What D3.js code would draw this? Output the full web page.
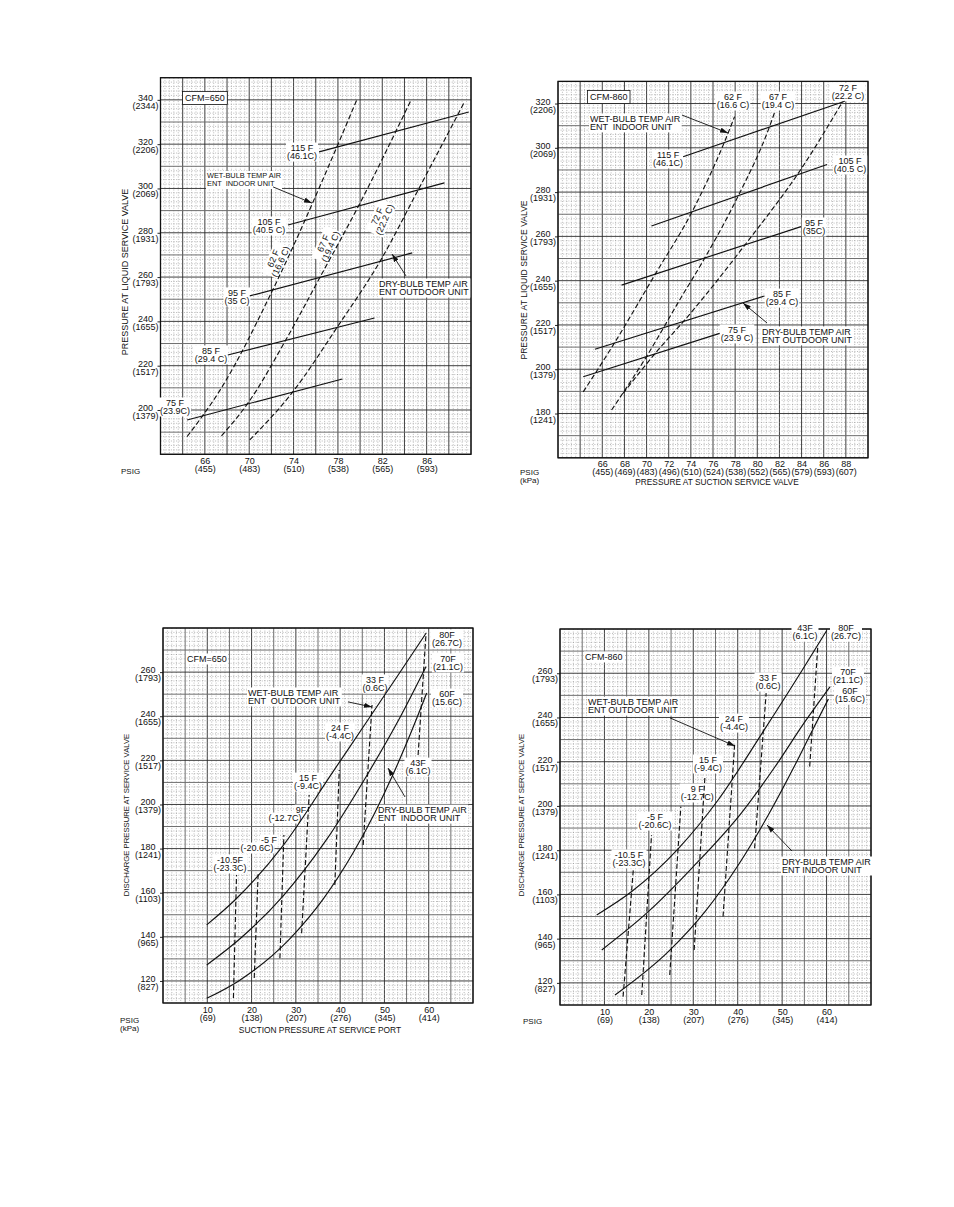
<!DOCTYPE html>
<html><head><meta charset="utf-8">
<script src="https://cdn.jsdelivr.net/npm/d3@7"></script>
<style>body{margin:0;background:#fff}</style>
</head><body><svg id="c" width="954" height="1207"></svg>
<script>
// ================= DATA =================
// Panel 1 : CFM=650, liquid pressure vs suction pressure (cooling)
const p1XTicks = [66,70,74,78,82,86];
const p1XKpa   = ["455","483","510","538","565","593"];
const p1YTicks = [200,220,240,260,280,300,320,340];
const p1YKpa   = ["1379","1517","1655","1793","1931","2069","2206","2344"];
const p1DryNames = ["115F","105F","95F","85F","75F"];
const p1Dry = [
  [[76.3,316.5],[89.8,334.5]],
  [[73.5,283.5],[87.6,302.5]],
  [[70.05,251.5],[84.7,270.9]],
  [[68.07,224.8],[81.3,241.5]],
  [[64.4,195.5],[78.4,214]]
];
const p1WetNames = ["62F","67F","72F"];
const p1Wet = [
  [[64.4,188],[67.5,210],[72.1,254],[77.9,318.7],[79.7,340]],
  [[67.5,188.3],[69.9,203.2],[73.4,232.5],[76.5,261],[79.9,292.5],[84.6,340]],
  [[70.05,186.5],[73.9,208],[77.95,237.5],[81.9,268],[85.2,299],[89.4,339]]
];
const p1Labels = [
  {t:["CFM=650"], at:[64.21,339.5], a:"start", box:true},
  {t:["115 F","(46.1C)"], at:[74.76,316.9]},
  {t:["WET-BULB TEMP AIR","ENT  INDOOR UNIT"], at:[66.19,304.5], a:"start", fs:7.4},
  {t:["105 F","(40.5 C)"], at:[71.78,283.5]},
  {t:["62 F","(16.6 C)"], at:[72.5,267.7], rot:-66},
  {t:["67 F","(19.4 C)"], at:[77.0,274.5], rot:-66},
  {t:["72 F","(22.2 C)"], at:[81.88,286.7], rot:-66},
  {t:["95 F","(35 C)"], at:[68.9,251.5]},
  {t:["DRY-BULB TEMP AIR","ENT OUTDOOR UNIT"], at:[81.7,255.5], a:"start"},
  {t:["85 F","(29.4 C)"], at:[66.55,225.3]},
  {t:["75 F","(23.9C)"], at:[63.31,201.8]}
];
const p1Arrows = [
  {from:[72.15,300.7], to:[75.66,293.4]},
  {from:[84.14,260.5], to:[82.88,270.4]}
];

// Panel 2 : CFM-860
const p2XTicks = [66,68,70,72,74,76,78,80,82,84,86,88];
const p2XKpa   = ["455","469","483","496","510","524","538","552","565","579","593","607"];
const p2YTicks = [180,200,220,240,260,280,300,320];
const p2YKpa   = ["1241","1379","1517","1655","1793","1931","2069","2206"];
const p2DryNames = ["115F","105F","95F","85F","75F"];
const p2Dry = [
  [[73.3,296],[87.9,321]],
  [[70.44,264.7],[86.3,292.5]],
  [[67.74,238],[83.95,264.4]],
  [[65.33,209],[80.65,233.1]],
  [[64.28,196.6],[76.6,216.2]]
];
const p2WetNames = ["62F","67F","72F"];
const p2Wet = [
  [[64.28,189.8],[66.98,210.9],[70.74,242.6],[74.19,271.9],[77.05,302.8],[77.95,314.1]],
  [[66.84,181.6],[69.99,205.7],[72.99,231.3],[75.24,250.1],[78.24,277.9],[81.1,309.5],[81.6,316.5]],
  [[67.88,189.1],[71.04,208.7],[73.44,222.2],[79.0,256.9],[84.1,291.5],[87.7,320.8]]
];
const p2Labels = [
  {t:["CFM-860"], at:[64.89,321.6], a:"start", box:true},
  {t:["62 F","(16.6 C)"], at:[77.81,321.6]},
  {t:["67 F","(19.4 C)"], at:[81.87,321.6]},
  {t:["72 F","(22.2 C)"], at:[88.19,325.7]},
  {t:["WET-BULB TEMP AIR","ENT  INDOOR UNIT"], at:[64.89,311.7], a:"start"},
  {t:["115 F","(46.1C)"], at:[71.94,295.4]},
  {t:["105 F","(40.5 C)"], at:[88.37,292.7]},
  {t:["95 F","(35C)"], at:[85.12,264.7]},
  {t:["85 F","(29.4 C)"], at:[82.23,232.6]},
  {t:["75 F","(23.9 C)"], at:[78.17,216.4]},
  {t:["DRY-BULB TEMP AIR","ENT OUTDOOR UNIT"], at:[80.43,215.5], a:"start"}
];
const p2Arrows = [
  {from:[73.2,314.8], to:[77.36,306.7]},
  {from:[80.88,220.9], to:[78.71,229.9]}
];

// Panel 3 : CFM=650, discharge pressure vs suction pressure (heating)
const p3XTicks = [10,20,30,40,50,60];
const p3XKpa   = ["69","138","207","276","345","414"];
const p3YTicks = [120,140,160,180,200,220,240,260];
const p3YKpa   = ["827","965","1103","1241","1379","1517","1655","1793"];
const p3DryNames = ["80F","70F","60F"];
const p3Dry = [
  [[9.86,145.4],[16.25,156.7],[27.2,181.6],[38.4,214.9],[46,237.5],[53.1,258.7],[59.4,277.6]],
  [[9.87,127.2],[17.77,139.8],[27.1,158.5],[36.8,183.7],[46.36,214.3],[52.77,236.7],[59.39,262.5]],
  [[9.87,112.1],[17,119.9],[28.68,139.2],[36.2,157.2],[42.97,178.2],[47.64,195.5],[51.94,213.6],[56.16,233.4],[59.55,250.5]]
];
const p3WetNames = ["-10.5F","-5F","9F","15F","24F","33F","43F"];
const p3Wet = [
  [[15.9,112.3],[16.6,168.0]],
  [[20.6,121.3],[21.5,169.4]],
  [[26.4,130.3],[27.3,186.2]],
  [[31.3,141.6],[33.0,204.3]],
  [[38.8,163.5],[39.8,215.6]],
  [[45.2,181.6],[47.2,245.1]],
  [[57.6,222.4],[59.4,277.6]]
];
const p3Labels = [
  {t:["CFM=650"], at:[5.42,264.6], a:"start", box:false},
  {t:["80F","(26.7C)"], at:[64.13,275.5]},
  {t:["70F","(21.1C)"], at:[64.35,264.6]},
  {t:["60F","(15.6C)"], at:[64.13,248.7]},
  {t:["33 F","(0.6C)"], at:[47.87,255.1]},
  {t:["WET-BULB TEMP AIR","ENT  OUTDOOR UNIT"], at:[19.19,249.2], a:"start"},
  {t:["24 F","(-4.4C)"], at:[39.97,233.3]},
  {t:["43F","(6.1C)"], at:[57.58,217.4]},
  {t:["15 F","(-9.4C)"], at:[32.74,210.6]},
  {t:["9F"], at:[31.16,196.1]},
  {t:["(-12.7C)"], at:[27.55,192.5]},
  {t:["-5 F"], at:[23.94,182.5]},
  {t:["(-20.6C)"], at:[21.23,178.9]},
  {t:["-10.5F","(-23.3C)"], at:[15.13,173.5]},
  {t:["DRY-BULB TEMP AIR","ENT  INDOOR UNIT"], at:[48.55,196.1], a:"start"}
];
const p3Arrows = [
  {from:[41.77,246.5], to:[47.19,244.2]},
  {from:[54.65,203.4], to:[50.81,216.5]}
];

// Panel 4 : CFM-860
const p4XTicks = [10,20,30,40,50,60];
const p4XKpa   = ["69","138","207","276","345","414"];
const p4YTicks = [120,140,160,180,200,220,240,260];
const p4YKpa   = ["827","965","1103","1241","1379","1517","1655","1793"];
const p4DryNames = ["80F","70F","60F"];
const p4Dry = [
  [[8.26,150.7],[16.14,161.3],[26.63,180.7],[35.63,202.8],[45.4,232.6],[54.4,261],[60.03,279.3]],
  [[9.39,134.9],[19.87,152.2],[29.64,171.8],[40.9,197],[48.39,217.7],[55.14,238.1],[60.77,253.9]],
  [[12.38,114.5],[24.38,134.1],[32.64,152.2],[40.13,173.3],[46.88,195.9],[52.89,218.5],[56.65,233.5],[60.39,248.3]]
];
const p4WetNames = ["-10.5F","-5F","9F","15F","24F","33F","43F"];
const p4Wet = [
  [[14.2,113.8],[16.5,171.1]],
  [[18.4,114.5],[20.6,186.9]],
  [[24.7,123.6],[27.2,199.7]],
  [[30.2,134.9],[32.6,212.6]],
  [[36.7,150],[39.3,227.6]],
  [[43.8,180.9],[46.4,251]],
  [[56.2,217.8],[58.0,271.4]]
];
const p4Labels = [
  {t:["CFM-860"], at:[5.63,266.0], a:"start", box:false},
  {t:["43F","(6.1C)"], at:[55.14,279.0]},
  {t:["80F","(26.7C)"], at:[64.37,279.0]},
  {t:["70F","(21.1C)"], at:[64.82,259.1]},
  {t:["60F","(15.6C)"], at:[65.27,250.5]},
  {t:["33 F","(0.6C)"], at:[46.82,256.5]},
  {t:["WET-BULB TEMP AIR","ENT OUTDOOR UNIT"], at:[6.30,245.6], a:"start"},
  {t:["24 F","(-4.4C)"], at:[39.16,237.9]},
  {t:["15 F","(-9.4C)"], at:[33.31,219.4]},
  {t:["9 F","(-12.7C)"], at:[30.9,206.3]},
  {t:["-5 F","(-20.6C)"], at:[21.38,193.6]},
  {t:["-10.5 F","(-23.3C)"], at:[15.53,176.5]},
  {t:["DRY-BULB TEMP AIR","ENT INDOOR UNIT"], at:[49.97,173.3], a:"start"}
];
const p4Arrows = [
  {from:[24.76,239.8], to:[39.39,227.1]},
  {from:[52.22,179.6], to:[46.59,191.4]}
];

// ================= LAYOUT / STYLE =================
const FONT = "'Liberation Sans', Arial, Helvetica, sans-serif";
const INK = "#111";
const panels = [
  {xDom:[62,90], yDom:[180,350], xRange:[160.5,471], yRange:[454.3,77.7],
   xMinor:0.4, xMid:2, xMajor:4, yMinor:2, yMid:10, yMajor:20,
   xTicks:p1XTicks, xKpa:p1XKpa, yTicks:p1YTicks, yKpa:p1YKpa,
   dry:p1Dry, wet:p1Wet, labels:p1Labels, arrows:p1Arrows, wetCurve:true, dryCurve:false,
   yTitle:{text:"PRESSURE AT LIQUID SERVICE VALVE", x:125, y:272, fs:9},
   psig:{x:121, y:474, lines:["PSIG"]}},
  {xDom:[62,90], yDom:[160,330], xRange:[558,868], yRange:[457.8,81.4],
   xMinor:0.4, xMid:2, xMajor:4, yMinor:2, yMid:10, yMajor:20,
   xTicks:p2XTicks, xKpa:p2XKpa, yTicks:p2YTicks, yKpa:p2YKpa,
   dry:p2Dry, wet:p2Wet, labels:p2Labels, arrows:p2Arrows, wetCurve:true, dryCurve:false,
   yTitle:{text:"PRESSURE AT LIQUID SERVICE VALVE", x:524, y:280, fs:8.6},
   xTitle:{text:"PRESSURE AT SUCTION SERVICE VALVE", x:717, y:485, fs:8.3},
   psig:{x:520, y:475, lines:["PSIG","(kPa)"]}},
  {xDom:[0,70], yDom:[110,280], xRange:[163,473], yRange:[1003,628],
   xMinor:1, xMid:5, xMajor:10, yMinor:2, yMid:10, yMajor:20,
   xTicks:p3XTicks, xKpa:p3XKpa, yTicks:p3YTicks, yKpa:p3YKpa,
   dry:p3Dry, wet:p3Wet, labels:p3Labels, arrows:p3Arrows, wetCurve:false, dryCurve:true,
   yTitle:{text:"DISCHARGE PRESSURE AT SERVICE VALVE", x:126, y:815, fs:7.7},
   xTitle:{text:"SUCTION PRESSURE AT SERVICE PORT", x:320, y:1033, fs:8.4},
   psig:{x:120, y:1023, lines:["PSIG","(kPa)"]}},
  {xDom:[0,70], yDom:[110,280], xRange:[560,871], yRange:[1005,629],
   xMinor:1, xMid:5, xMajor:10, yMinor:2, yMid:10, yMajor:20,
   xTicks:p4XTicks, xKpa:p4XKpa, yTicks:p4YTicks, yKpa:p4YKpa,
   dry:p4Dry, wet:p4Wet, labels:p4Labels, arrows:p4Arrows, wetCurve:false, dryCurve:true,
   yTitle:{text:"DISCHARGE PRESSURE AT SERVICE VALVE", x:521, y:815, fs:7.7},
   psig:{x:523, y:1024, lines:["PSIG"]}}
];

// ================= DRAW =================
const svg = d3.select("#c");
svg.append("rect").attr("width",954).attr("height",1207).attr("fill","#fff");
svg.append("defs").append("marker").attr("id","ah")
  .attr("viewBox","0 -3 8 6").attr("refX",8).attr("refY",0)
  .attr("markerWidth",8).attr("markerHeight",6).attr("markerUnits","userSpaceOnUse")
  .attr("orient","auto")
  .append("path").attr("d","M0,-2.6L8,0L0,2.6Z").attr("fill",INK);

function isMult(v, step){ const r = v/step; return Math.abs(r-Math.round(r))<1e-6; }
function steps(d0,d1,st){ const n=Math.round((d1-d0)/st); return d3.range(n+1).map(i=>d0+i*st); }

function drawPanel(P){
  const x = d3.scaleLinear().domain(P.xDom).range(P.xRange);
  const y = d3.scaleLinear().domain(P.yDom).range(P.yRange);
  const L = P.xRange[0], R = P.xRange[1], T = P.yRange[1], B = P.yRange[0];
  const g = svg.append("g");
  const gGrid = g.append("g"), gBg = g.append("g"), gLines = g.append("g"), gText = g.append("g");

  // graph-paper grid
  steps(P.xDom[0],P.xDom[1],P.xMinor).forEach(v=>{
    const maj = isMult(v-P.xDom[0],P.xMajor)||isMult(v,P.xMajor), mid = isMult(v,P.xMid);
    gGrid.append("line").attr("x1",x(v)).attr("x2",x(v)).attr("y1",T).attr("y2",B)
      .attr("stroke", maj?"#2a2a2a":(mid?"#6e6e6e":"#8c8c8c"))
      .attr("stroke-width", maj?0.9:(mid?1.0:0.6))
      .attr("stroke-dasharray", (maj||mid)?null:"1,1.6");
  });
  steps(P.yDom[0],P.yDom[1],P.yMinor).forEach(v=>{
    const maj = isMult(v,P.yMajor), mid = isMult(v,P.yMid);
    gGrid.append("line").attr("x1",L).attr("x2",R).attr("y1",y(v)).attr("y2",y(v))
      .attr("stroke", maj?"#2a2a2a":(mid?"#6e6e6e":"#8c8c8c"))
      .attr("stroke-width", maj?0.9:(mid?1.0:0.6))
      .attr("stroke-dasharray", (maj||mid)?null:"1,1.6");
  });
  gGrid.append("rect").attr("x",L).attr("y",T).attr("width",R-L).attr("height",B-T)
    .attr("fill","none").attr("stroke",INK).attr("stroke-width",1.3);

  // axes (library generators) + two-line tick labels
  const ax = g.append("g").attr("transform",`translate(0,${B})`)
    .call(d3.axisBottom(x).tickValues(P.xTicks).tickSize(0).tickFormat(""));
  ax.select(".domain").remove();
  ax.selectAll(".tick").each(function(d,i){
    const t = d3.select(this);
    t.append("text").attr("y",9.5).attr("text-anchor","middle").attr("fill",INK)
      .attr("font-family",FONT).attr("font-size",9).text(d);
    t.append("text").attr("y",17.5).attr("text-anchor","middle").attr("fill",INK)
      .attr("font-family",FONT).attr("font-size",9).text("("+P.xKpa[i]+")");
  });
  const ay = g.append("g").attr("transform",`translate(${L},0)`)
    .call(d3.axisLeft(y).tickValues(P.yTicks).tickSize(3).tickFormat(""));
  ay.select(".domain").remove();
  ay.selectAll(".tick line").attr("stroke",INK).attr("stroke-width",0.9);
  ay.selectAll(".tick").each(function(d,i){
    const t = d3.select(this);
    t.append("text").attr("x",-15).attr("y",0.5).attr("text-anchor","middle").attr("fill",INK)
      .attr("font-family",FONT).attr("font-size",9).text(d);
    t.append("text").attr("x",-15).attr("y",8.5).attr("text-anchor","middle").attr("fill",INK)
      .attr("font-family",FONT).attr("font-size",9).text("("+P.yKpa[i]+")");
  });

  // series
  const solidGen = d3.line().x(d=>x(d[0])).y(d=>y(d[1])).curve(P.dryCurve?d3.curveMonotoneX:d3.curveLinear);
  const dashGen = d3.line().x(d=>x(d[0])).y(d=>y(d[1])).curve(P.wetCurve?d3.curveMonotoneX:d3.curveLinear);
  P.dry.forEach(s=>gLines.append("path").attr("d",solidGen(s)).attr("fill","none")
    .attr("stroke",INK).attr("stroke-width",1.15));
  P.wet.forEach(s=>gLines.append("path").attr("d",dashGen(s)).attr("fill","none")
    .attr("stroke",INK).attr("stroke-width",1.15).attr("stroke-dasharray","5,2.6"));
  P.arrows.forEach(a=>gLines.append("line")
    .attr("x1",x(a.from[0])).attr("y1",y(a.from[1])).attr("x2",x(a.to[0])).attr("y2",y(a.to[1]))
    .attr("stroke",INK).attr("stroke-width",0.9).attr("marker-end","url(#ah)"));

  // annotation labels
  P.labels.forEach(lb=>{
    const fs = lb.fs||9, lh = 8, anchor = lb.a||"middle";
    const px = x(lb.at[0]), py = y(lb.at[1]);
    const tr = lb.rot ? `translate(${px},${py}) rotate(${lb.rot})` : `translate(${px},${py})`;
    const off = lb.rot ? (-(lb.t.length-1)/2*lh + fs*0.35) : 0;
    const tg = gText.append("g").attr("transform",tr);
    lb.t.forEach((s,i)=>tg.append("text").attr("x",0).attr("y",off+i*lh)
      .attr("text-anchor",anchor).attr("font-family",FONT).attr("font-size",fs)
      .attr("fill",INK).style("white-space","pre").text(s));
    const bb = tg.node().getBBox();
    gBg.append("rect").attr("transform",tr)
      .attr("x",bb.x-(lb.box?2.5:1)).attr("y",bb.y-(lb.box?1.5:0.5))
      .attr("width",bb.width+(lb.box?5:2)).attr("height",bb.height+(lb.box?3:1))
      .attr("fill","#fff").attr("stroke",lb.box?INK:"none").attr("stroke-width",0.8);
  });

  // axis titles
  const yt = P.yTitle;
  g.append("text").attr("transform",`translate(${yt.x+3},${yt.y}) rotate(-90)`)
    .attr("text-anchor","middle").attr("font-family",FONT).attr("font-size",yt.fs)
    .attr("fill",INK).text(yt.text);
  if(P.xTitle){
    g.append("text").attr("x",P.xTitle.x).attr("y",P.xTitle.y).attr("text-anchor","middle")
      .attr("font-family",FONT).attr("font-size",P.xTitle.fs).attr("fill",INK).text(P.xTitle.text);
  }
  P.psig.lines.forEach((s,i)=>g.append("text").attr("x",P.psig.x).attr("y",P.psig.y+i*7.5)
    .attr("font-family",FONT).attr("font-size",8).attr("fill",INK).text(s));
}
panels.forEach(drawPanel);
</script></body></html>
